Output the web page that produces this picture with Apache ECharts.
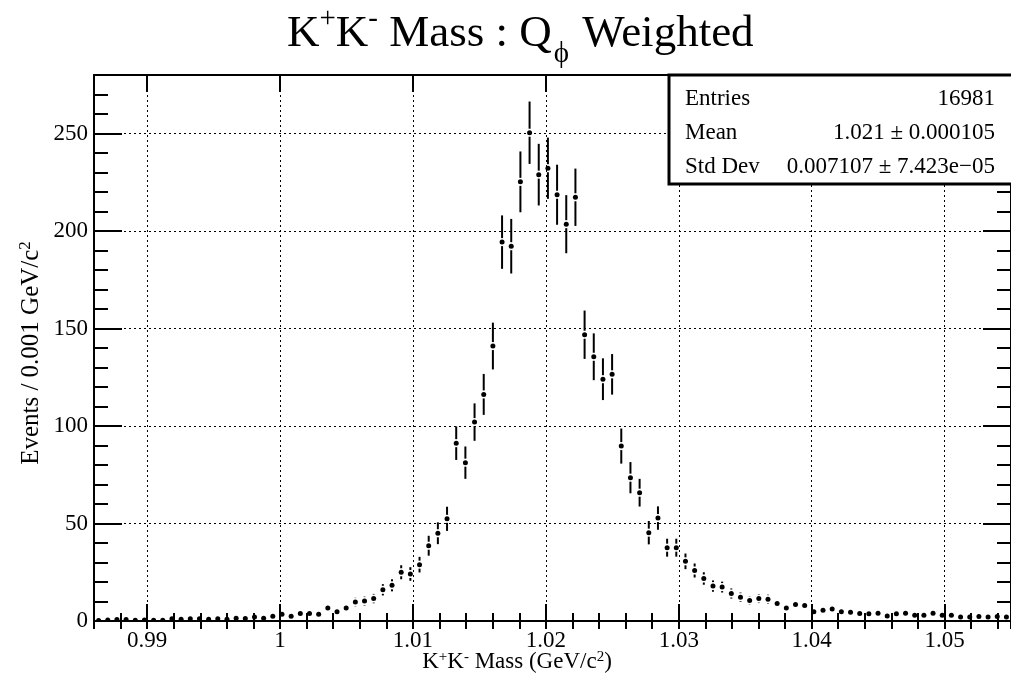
<!DOCTYPE html>
<html>
<head>
<meta charset="utf-8">
<script src="https://cdn.jsdelivr.net/npm/echarts@6/dist/echarts.min.js"></script>
<style>
html, body { margin: 0; padding: 0; background: #fff; }
#chart { width: 1011px; height: 680px; }
</style>
</head>
<body>
<div id="chart"></div>
<script>
// histogram binning (100 bins)
var binLow = 0.986;
var binHigh = 1.055;
var nBins = 100;

// weighted bin contents
var counts = [
    0.3, 0.5, 0.8, 0.8, 0.4, 0.5, 0.4, 0.4, 1.1, 0.9,
    1.1, 1.1, 0.9, 1.1, 0.9, 1.4, 1.3, 2.1, 1.4, 2.5,
    3.5, 2.5, 3.8, 3.8, 3.5, 6.7, 4.7, 6.7, 9.7, 10.2,
    11.5, 16, 18.3, 25, 24.1, 28.9, 38.6, 45, 52.4, 91.2,
    81.2, 102, 116.2, 141, 194.3, 192.2, 225.2, 250.4, 228.9, 232.2,
    218.6, 203.5, 217.3, 146.8, 135.5, 124, 126.5, 89.7, 73.5, 65.8,
    45.3, 52.8, 37.6, 37.6, 30.6, 25.9, 21.8, 17.9, 17.4, 14.1,
    12.2, 10.5, 11.5, 11.2, 9.0, 6.7, 8.5, 7.9, 4.7, 5.5,
    6.2, 4.7, 4.5, 3.8, 3.7, 4.0, 2.6, 3.7, 4.0, 3.0,
    3.0, 4.0, 3.0, 3.0, 2.1, 2.1, 2.3, 2.0, 2.3, 2.0
];
// bin errors
var errors = [
    0.3, 0.4, 0.5, 0.5, 0.4, 0.4, 0.4, 0.4, 0.6, 0.6,
    0.6, 0.6, 0.6, 0.6, 0.6, 0.7, 0.7, 0.9, 0.7, 1.0,
    1.2, 1.0, 1.3, 1.3, 1.2, 1.8, 1.5, 1.8, 2.2, 2.3,
    2.4, 2.9, 3.1, 3.6, 3.5, 4.0, 5.1, 5.6, 6.2, 8.6,
    8.3, 9.6, 10.5, 12, 13.7, 14, 15.6, 16, 15.8, 15.7,
    15.4, 14.9, 14.7, 12.4, 12, 10.7, 10.4, 9, 8, 7.1,
    6, 6, 4.6, 4.6, 4, 3.6, 3.2, 2.9, 2.8, 2.6,
    2.4, 2.2, 2.3, 2.3, 2.0, 1.8, 2.0, 1.9, 1.5, 1.6,
    1.7, 1.5, 1.4, 1.3, 1.3, 1.4, 1.1, 1.3, 1.4, 1.2,
    1.2, 1.4, 1.2, 1.2, 1.0, 1.0, 1.0, 1.0, 1.0, 1.0
];

var xMajorTicks = [0.99, 1.00, 1.01, 1.02, 1.03, 1.04, 1.05];
var xTickLabels = ['0.99', '1', '1.01', '1.02', '1.03', '1.04', '1.05'];
var yMajorTicks = [0, 50, 100, 150, 200, 250];

var statsLabels = ['Entries', 'Mean', 'Std Dev'];
var statsValues = ['16981', '1.021 \u00b1 0.000105', '0.007107 \u00b1 7.423e\u221205'];

var font = 'Liberation Serif';
var binWidth = (binHigh - binLow) / nBins;

var data = counts.map(function (c, i) {
    return [binLow + binWidth * (i + 0.5), c, errors[i]];
});

var chart = echarts.init(document.getElementById('chart'));

var frameLine = { show: true, onZero: false, lineStyle: { color: '#000', width: 2 } };
var tickStyle = { color: '#000', width: 2 };
var gridDots = { show: true, lineStyle: { color: '#000', width: 1, type: [2, 3] } };

function xLabel(v) {
    for (var i = 0; i < xMajorTicks.length; i++) {
        if (Math.abs(xMajorTicks[i] - v) < 1e-6) return xTickLabels[i];
    }
    return '';
}

// minor + major axis pair, for one side
function xAxes(pos, withLabels) {
    return [{
        type: 'value', min: binLow, max: binHigh, interval: 0.002, position: pos,
        axisLine: { show: false },
        axisTick: { inside: true, length: 8, lineStyle: tickStyle },
        axisLabel: { show: false },
        splitLine: { show: false }
    }, {
        type: 'value', min: binLow, max: binHigh, position: pos,
        axisLine: frameLine,
        axisTick: { inside: true, length: 17, lineStyle: tickStyle, customValues: xMajorTicks },
        axisLabel: {
            show: withLabels, customValues: xMajorTicks, formatter: xLabel,
            fontFamily: font, fontSize: 23, color: '#000', margin: 8
        },
        splitLine: withLabels ? gridDots : { show: false }
    }];
}

function yAxes(pos, withLabels) {
    return [{
        type: 'value', min: 0, max: 280, interval: 10, position: pos,
        axisLine: { show: false },
        axisTick: { inside: true, length: 14, lineStyle: tickStyle },
        axisLabel: { show: false },
        splitLine: { show: false }
    }, {
        type: 'value', min: 0, max: 280, position: pos,
        axisLine: frameLine,
        axisTick: { inside: true, length: 28, lineStyle: tickStyle, customValues: yMajorTicks },
        axisLabel: {
            show: withLabels, customValues: yMajorTicks,
            fontFamily: font, fontSize: 23, color: '#000', margin: 6
        },
        splitLine: withLabels ? gridDots : { show: false }
    }];
}

var titleRich = {
    b: { fontFamily: font, fontSize: 45, fontWeight: 'normal', color: '#000', lineHeight: 70, verticalAlign: 'middle' },
    sup: { fontFamily: font, fontSize: 29, fontWeight: 'normal', color: '#000', lineHeight: 70, verticalAlign: 'top', padding: [6, 0, 0, 0] },
    sub: { fontFamily: font, fontSize: 29, fontWeight: 'normal', color: '#000', lineHeight: 70, verticalAlign: 'bottom', padding: [0, 2, 0, 2] }
};
function smallRich(size) {
    return {
        b: { fontFamily: font, fontSize: size, color: '#000', lineHeight: size + 8 },
        sup: { fontFamily: font, fontSize: Math.round(size * 0.66), color: '#000', lineHeight: size + 8, verticalAlign: 'top', padding: [3, 0, 0, 0] }
    };
}

var graphics = [
    // stats box
    { type: 'rect', shape: { x: 669, y: 75, width: 360, height: 109 },
      style: { fill: '#fff', stroke: '#000', lineWidth: 3 }, z: 100 },
    { type: 'text', x: 517, y: 662, z: 100,
      style: { text: '{b|K}{sup|+}{b|K}{sup|-}{b| Mass (GeV/c}{sup|2}{b|)}', rich: smallRich(23),
               align: 'center', verticalAlign: 'middle' } },
    { type: 'text', x: 31, y: 353, rotation: Math.PI / 2, z: 100,
      style: { text: '{b|Events / 0.001 GeV/c}{sup|2}', rich: smallRich(25),
               align: 'center', verticalAlign: 'middle' } }
];
var rowY = [99, 133, 167];
for (var i = 0; i < statsLabels.length; i++) {
    graphics.push({ type: 'text', x: 685, y: rowY[i], z: 101,
        style: { text: statsLabels[i], fontFamily: font, fontSize: 23, fill: '#000', align: 'left', verticalAlign: 'middle' } });
    graphics.push({ type: 'text', x: 995, y: rowY[i], z: 101,
        style: { text: statsValues[i], fontFamily: font, fontSize: 23, fill: '#000', align: 'right', verticalAlign: 'middle' } });
}

var option = {
    backgroundColor: '#fff',
    animation: false,
    title: {
        text: '{b|K}{sup|+}{b|K}{sup|-}{b| Mass : Q}{sub|\u03d5}{b| Weighted}',
        left: 282, top: -6,
        textStyle: { fontWeight: 'normal', rich: titleRich }
    },
    grid: { left: 94, right: -2, top: 75, bottom: 59, containLabel: false },
    xAxis: xAxes('bottom', true).concat(xAxes('top', false)),
    yAxis: yAxes('left', true).concat(yAxes('right', false)),
    graphic: graphics,
    series: [{
        type: 'custom',
        xAxisIndex: 0, yAxisIndex: 0,
        clip: true,
        z: 10,
        data: data,
        renderItem: function (params, api) {
            var x = api.value(0), y = api.value(1), e = api.value(2);
            var p = api.coord([x, y]);
            var top = api.coord([x, y + e]);
            var bot = api.coord([x, y - e]);
            var gap = 4;
            var kids = [];
            if (p[1] - top[1] > gap) {
                kids.push({ type: 'line', shape: { x1: p[0], y1: top[1], x2: p[0], y2: p[1] - gap },
                            style: { stroke: '#000', lineWidth: 2 } });
            }
            if (bot[1] - p[1] > gap) {
                kids.push({ type: 'line', shape: { x1: p[0], y1: p[1] + gap, x2: p[0], y2: bot[1] },
                            style: { stroke: '#000', lineWidth: 2 } });
            }
            kids.push({ type: 'circle', shape: { cx: p[0], cy: p[1], r: 2.5 }, style: { fill: '#000' } });
            return { type: 'group', children: kids };
        }
    }]
};

chart.setOption(option);
</script>
</body>
</html>
